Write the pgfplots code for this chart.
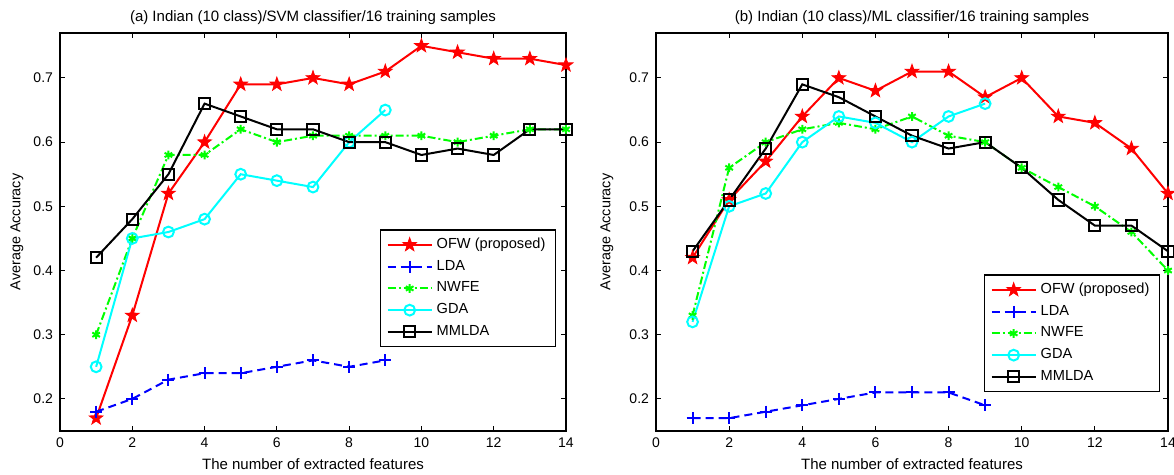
\documentclass[border=0pt]{standalone}
\usepackage{fontspec}
\setmainfont{Liberation Sans}
\usepackage{pgfplots}
\pgfplotsset{compat=1.18}

% filled five-pointed star, like MATLAB's pentagram
\pgfdeclareplotmark{pstar}{%
  \pgfpathmoveto{\pgfpointpolar{90}{\pgfplotmarksize}}%
  \pgfpathlineto{\pgfpointpolar{126}{0.40\pgfplotmarksize}}%
  \pgfpathlineto{\pgfpointpolar{162}{\pgfplotmarksize}}%
  \pgfpathlineto{\pgfpointpolar{198}{0.40\pgfplotmarksize}}%
  \pgfpathlineto{\pgfpointpolar{234}{\pgfplotmarksize}}%
  \pgfpathlineto{\pgfpointpolar{270}{0.40\pgfplotmarksize}}%
  \pgfpathlineto{\pgfpointpolar{306}{\pgfplotmarksize}}%
  \pgfpathlineto{\pgfpointpolar{342}{0.40\pgfplotmarksize}}%
  \pgfpathlineto{\pgfpointpolar{18}{\pgfplotmarksize}}%
  \pgfpathlineto{\pgfpointpolar{54}{0.40\pgfplotmarksize}}%
  \pgfpathclose\pgfusepathqfillstroke}

\definecolor{mred}{RGB}{255,0,0}
\definecolor{mblue}{RGB}{0,0,255}
\definecolor{mgreen}{RGB}{0,255,0}
\definecolor{mcyan}{RGB}{0,255,255}

\pgfplotsset{
  mlab/.style={
    scale only axis, height=199pt,
    xmin=0, xmax=14, ymin=0.15, ymax=0.77,
    xtick={0,2,4,6,8,10,12,14},
    ytick={0.2,0.3,0.4,0.5,0.6,0.7},
    yticklabel style={/pgf/number format/.cd, fixed, fixed zerofill, precision=1},
    /pgf/number format/assume math mode=true,
    tick align=inside, xtick pos=both, ytick pos=both,
    xticklabel pos=lower, yticklabel pos=left,
    major tick length=2.5pt,
    every tick/.style={black, line width=0.5pt},
    axis line style={line width=0.7pt},
    font=\fontsize{7}{8.4}\selectfont,
    every axis title/.style={font=\fontsize{7.5}{9}\selectfont, at={(axis description cs:0.5,1)}, anchor=center, yshift=7.5pt},
    every axis x label/.style={font=\fontsize{7.5}{9}\selectfont, at={(axis description cs:0.5,0)}, anchor=center, yshift=-16.5pt},
    xlabel={The number of extracted features},
    ylabel={Average Accuracy},
    legend cell align=left,
    legend style={draw=black, line width=0.6pt, font=\fontsize{7.3}{8.6}\selectfont,
      anchor=south east, row sep=0.3pt, inner xsep=3pt, inner ysep=2pt},
    legend image code/.code={\draw[mark repeat=2,mark phase=2,#1] plot coordinates {(0pt,0pt) (11pt,0pt) (22pt,0pt)};},
  },
  ofw/.style={mred, line width=1pt, mark=pstar, mark size=3.6pt, mark options={solid, fill=mred, line width=0.4pt}},
  lda/.style={mblue, line width=1pt, dash pattern=on 4pt off 2.5pt, mark=+, mark size=3pt, mark options={solid, line width=1pt}},
  nwfe/.style={mgreen, line width=1pt, dash pattern=on 4pt off 1.5pt on 1pt off 1.5pt, mark=asterisk, mark size=2.2pt, mark options={solid, line width=1pt}},
  gda/.style={mcyan, line width=1pt, mark=o, mark size=2.7pt, mark options={solid, line width=1pt}},
  mmlda/.style={black, line width=1pt, mark=square, mark size=2.8pt, mark options={solid, line width=1pt}},
}

\begin{document}
\begin{tikzpicture}
\useasboundingbox (0,0) rectangle (587pt,237.5pt);

\begin{axis}[mlab, at={(30pt,22pt)}, anchor=south west, width=253pt,
  title={(a) Indian (10 class)/SVM classifier/16 training samples},
  every axis y label/.style={font=\fontsize{7.2}{8.6}\selectfont, at={(axis description cs:-0.085,0.5)}, rotate=90, anchor=center},
  legend style={at={(axis description cs:1,0)}, xshift=-5pt, yshift=42pt}]
\addplot[ofw] coordinates {(1,0.17) (2,0.33) (3,0.52) (4,0.60) (5,0.69) (6,0.69) (7,0.70) (8,0.69) (9,0.71) (10,0.75) (11,0.74) (12,0.73) (13,0.73) (14,0.72)};
\addlegendentry{OFW (proposed)}
\addplot[lda] coordinates {(1,0.18) (2,0.20) (3,0.23) (4,0.24) (5,0.24) (6,0.25) (7,0.26) (8,0.25) (9,0.26)};
\addlegendentry{LDA}
\addplot[nwfe] coordinates {(1,0.30) (2,0.45) (3,0.58) (4,0.58) (5,0.62) (6,0.60) (7,0.61) (8,0.61) (9,0.61) (10,0.61) (11,0.60) (12,0.61) (13,0.62) (14,0.62)};
\addlegendentry{NWFE}
\addplot[gda] coordinates {(1,0.25) (2,0.45) (3,0.46) (4,0.48) (5,0.55) (6,0.54) (7,0.53) (8,0.60) (9,0.65)};
\addlegendentry{GDA}
\addplot[mmlda] coordinates {(1,0.42) (2,0.48) (3,0.55) (4,0.66) (5,0.64) (6,0.62) (7,0.62) (8,0.60) (9,0.60) (10,0.58) (11,0.59) (12,0.58) (13,0.62) (14,0.62)};
\addlegendentry{MMLDA}
\end{axis}

\begin{axis}[mlab, at={(328pt,22pt)}, anchor=south west, width=256pt,
  title={(b) Indian (10 class)/ML classifier/16 training samples},
  every axis y label/.style={font=\fontsize{7.2}{8.6}\selectfont, at={(axis description cs:-0.096,0.5)}, rotate=90, anchor=center},
  legend style={at={(axis description cs:1,0)}, xshift=-4pt, yshift=19.5pt}]
\addplot[ofw] coordinates {(1,0.42) (2,0.51) (3,0.57) (4,0.64) (5,0.70) (6,0.68) (7,0.71) (8,0.71) (9,0.67) (10,0.70) (11,0.64) (12,0.63) (13,0.59) (14,0.52)};
\addlegendentry{OFW (proposed)}
\addplot[lda] coordinates {(1,0.17) (2,0.17) (3,0.18) (4,0.19) (5,0.20) (6,0.21) (7,0.21) (8,0.21) (9,0.19)};
\addlegendentry{LDA}
\addplot[nwfe] coordinates {(1,0.33) (2,0.56) (3,0.60) (4,0.62) (5,0.63) (6,0.62) (7,0.64) (8,0.61) (9,0.60) (10,0.56) (11,0.53) (12,0.50) (13,0.46) (14,0.40)};
\addlegendentry{NWFE}
\addplot[gda] coordinates {(1,0.32) (2,0.50) (3,0.52) (4,0.60) (5,0.64) (6,0.63) (7,0.60) (8,0.64) (9,0.66)};
\addlegendentry{GDA}
\addplot[mmlda] coordinates {(1,0.43) (2,0.51) (3,0.59) (4,0.69) (5,0.67) (6,0.64) (7,0.61) (8,0.59) (9,0.60) (10,0.56) (11,0.51) (12,0.47) (13,0.47) (14,0.43)};
\addlegendentry{MMLDA}
\end{axis}
\end{tikzpicture}
\end{document}
